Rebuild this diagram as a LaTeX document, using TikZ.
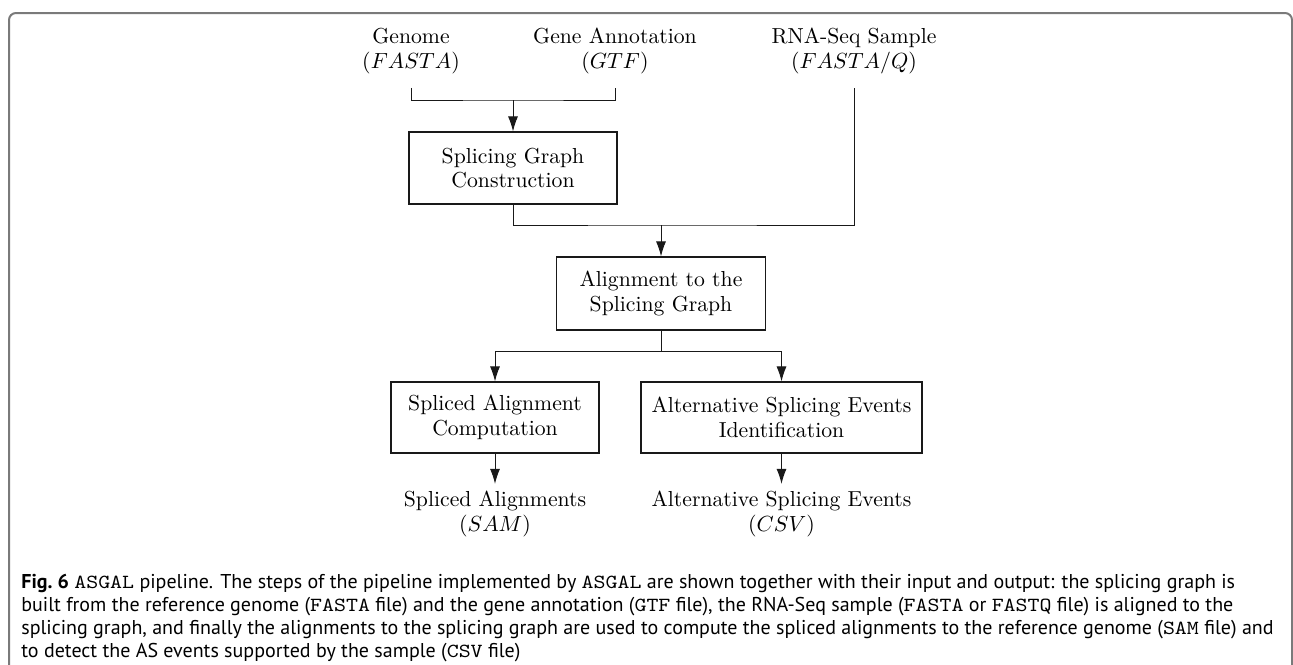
\documentclass[tikz,border=0pt]{standalone}
\usepackage{fontspec}
\usetikzlibrary{arrows.meta}
\newfontfamily\capfont{PT Sans}
\newfontfamily\capmono{lmmono10-regular}[Extension=.otf, FakeStretch=1.14]
\newcommand\capcode[1]{{\capmono #1}}
\begin{document}
\begin{tikzpicture}[x=0.5pt,y=-0.5pt,
  font=\fontsize{10.85}{12.2}\selectfont,
  stepbox/.style={draw=black!90, line width=0.55pt, align=center, inner sep=0pt},
  io/.style={align=center, inner xsep=0pt, inner ysep=#1},
  io/.default=7pt,
  link/.style={draw=black!90, line width=0.5pt},
  arr/.style={link, -{Latex[length=7.5pt,width=5pt]}},
  frame/.style={draw=black!52, line width=1pt, rounded corners=3.5pt},
  capline/.style={anchor=base west, inner sep=0pt, font=\capfont\fontsize{10}{12}\selectfont}
]
\useasboundingbox (0,0) rectangle (1293,664);
\clip (0,0) rectangle (1293,664);

% outer frame, open at the bottom
\draw[frame] (9,680) -- (9,13) -- (1292,13) -- (1292,680);

% inputs
\node[io] (gen) at (411,51) {Genome\\$(FASTA)$};
\node[io] (gtf) at (615,51) {Gene Annotation\\$(GTF)$};
\node[io] (rna) at (854,51) {RNA-Seq Sample\\$(FASTA/Q)$};

% processing steps
\node[stepbox, minimum width=104pt, minimum height=36pt] (sgc) at (513,168) {Splicing Graph\\Construction};
\node[stepbox, minimum width=104.5pt, minimum height=36.5pt] (aln) at (661,293.5) {Alignment to the\\Splicing Graph};
\node[stepbox, minimum width=104pt, minimum height=35.5pt] (sac) at (495,417.5) {Spliced Alignment\\Computation};
\node[stepbox, minimum width=140.5pt, minimum height=35.5pt] (ase) at (781.5,417.5) {Alternative Splicing Events\\Identification};

% outputs
\node[io=3.5pt] (sam) at (495,514) {Spliced Alignments\\$(SAM)$};
\node[io=3.5pt] (csv) at (781.5,514) {Alternative Splicing Events\\$(CSV)$};

% junction points
\coordinate (jtop) at (513,100);
\coordinate (jmid) at (661,225);
\coordinate (jbot) at (661,351);

% connectors
\draw[link] (gen.south) |- (jtop) -| (gtf.south);
\draw[arr] (jtop) -- (sgc.north);
\draw[link] (sgc.south) |- (jmid) -| (rna.south);
\draw[arr] (jmid) -- (aln.north);
\draw[link] (aln.south) -- (jbot);
\draw[arr] (jbot) -| (sac.north);
\draw[arr] (jbot) -| (ase.north);
\draw[arr] (sac.south) -- (sam.north);
\draw[arr] (ase.south) -- (csv.north);

% caption
\node[capline] (cap1) at (21,588) {\textbf{Fig.\ 6} \capcode{ASGAL} pipeline. The steps of the pipeline implemented by \capcode{ASGAL} are shown together with their input and output: the splicing graph is};
\node[capline] (cap2) at (21,611) {built from the reference genome (\capcode{FASTA} file) and the gene annotation (\capcode{GTF} file), the RNA-Seq sample (\capcode{FASTA} or \capcode{FASTQ} file) is aligned to the};
\node[capline] (cap3) at (21,634) {splicing graph, and finally the alignments to the splicing graph are used to compute the spliced alignments to the reference genome (\capcode{SAM} file) and};
\node[capline] (cap4) at (21,657) {to detect the AS events supported by the sample (\capcode{CSV} file)};
\end{tikzpicture}
\end{document}
